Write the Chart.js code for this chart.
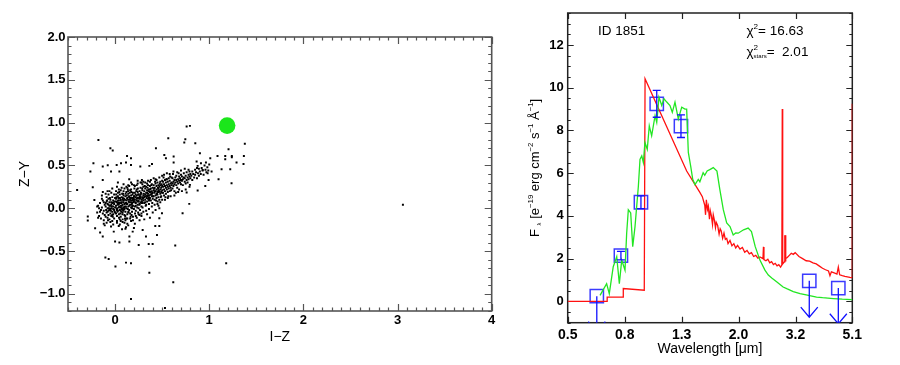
<!DOCTYPE html>
<html>
<head>
<meta charset="utf-8">
<script src="https://cdn.jsdelivr.net/npm/chart.js@4.4.0/dist/chart.umd.min.js"></script>
<style>
  body { margin: 0; background: #fff; }
  #wrap { position: relative; width: 900px; height: 365px; }
  canvas { position: absolute; top: 0; }
</style>
</head>
<body>
<div id="wrap">
  <canvas id="colorChart" width="500" height="365" style="left:0"></canvas>
  <canvas id="sedChart" width="400" height="365" style="left:500px"></canvas>
</div>
<script>
Chart.defaults.font.family = "'Liberation Sans', Arial, sans-serif";
Chart.defaults.font.size = 13;
Chart.defaults.color = "#000";

// ---- left panel: colour-colour plane ----
const izTicks = [0, 1, 2, 3, 4];
const zyTicks = [-1.0, -0.5, 0.0, 0.5, 1.0, 1.5, 2.0];

// field objects [I-Z, Z-Y]
const fieldStars = [
  // sparse ones
  [-0.177,0.798],[-0.05,0.701],[-0.025,0.674],[0.565,0.818],[0.760,0.954],[0.795,0.962],[0.746,0.806],
  [0.735,0.767],[0.852,0.759],[0.434,0.701],[0.127,0.611],[0.169,0.584],[0.268,0.487],[0.364,0.495],
  [0.392,0.518],[0.523,0.623],[0.540,0.584],[0.622,0.604],[0.622,0.533],[0.901,0.643],[1.011,0.584],
  [1.088,0.611],[1.170,0.611],[1.170,0.572],[1.240,0.611],[1.240,0.596],[1.290,0.533],[1.368,0.611],
  [1.378,0.752],[1.364,0.518],[1.205,0.689],[1.131,0.456],[1.223,0.456],[1.099,0.339],[1.237,0.292],
  [1.025,0.428],[0.965,0.533],[0.866,0.545],[0.912,0.526],[0.877,0.495],[0.930,0.448],[0.983,0.409],
  [0.993,0.331],[0.958,0.261],[0.877,0.206],[0.795,0.273],[0.760,0.183],[0.788,0.051],[0.717,-0.058],
  [-0.230,0.526],[-0.262,0.428],[-0.131,0.487],[-0.078,0.502],[0.017,0.506],[0.063,0.526],[0.116,0.533],
  [0.169,0.506],[0.046,0.428],[-0.043,0.428],[-0.237,0.245],[-0.131,0.331],[-0.290,-0.097],[-0.290,-0.144],
  [-0.220,0.097],[-0.212,-0.234],[-0.159,-0.284],[-0.131,-0.331],[-0.043,-0.214],[-0.014,-0.273],
  [0.039,-0.206],[0.116,-0.222],[0.152,-0.331],[0.187,-0.273],[0.074,-0.245],[0.0,-0.389],[0.046,-0.401],
  [0.152,-0.389],[0.251,-0.428],[0.357,-0.417],[0.399,-0.417],[0.293,-0.253],[0.427,-0.206],[0.470,-0.206],
  [0.328,-0.331],[0.445,-0.312],[0.639,-0.436],[0.470,-0.117],[0.498,-0.058],[-0.103,-0.576],[-0.068,-0.592],
  [0.004,-0.681],[0.116,-0.635],[0.169,-0.643],[0.364,-0.565],[0.364,-0.752],[0.618,-0.864],[0.169,-1.059],
  [1.180,-0.643],[0.53,-1.165],[3.057,0.042],[-0.403,0.214],
  // the main band
  [-0.19,-0.05],[-0.18,0.03],[-0.17,-0.09],[-0.16,0.06],[-0.15,-0.02],[-0.15,-0.12],[-0.14,0.01],[-0.13,-0.06],
  [-0.13,0.09],[-0.12,-0.03],[-0.12,-0.14],[-0.11,0.04],[-0.11,-0.08],[-0.18,-0.11],[-0.16,-0.04],[-0.14,0.11],
  [-0.19,0.02],[-0.1,-0.1],[-0.17,0.0],[-0.12,0.07],
  [-0.1,0.02],[-0.09,-0.05],[-0.09,0.08],[-0.08,-0.11],[-0.08,0.0],[-0.08,0.05],[-0.07,-0.03],[-0.07,0.11],
  [-0.07,-0.08],[-0.06,0.03],[-0.06,-0.13],[-0.06,0.07],[-0.05,-0.01],[-0.05,-0.06],[-0.05,0.1],[-0.04,0.04],
  [-0.04,-0.09],[-0.04,0.0],[-0.03,0.06],[-0.03,-0.04],[-0.03,0.13],[-0.02,-0.07],[-0.02,0.02],[-0.02,0.09],
  [-0.01,-0.02],[-0.01,-0.12],[-0.01,0.05],[0.0,0.01],[0.0,-0.05],[0.0,0.08],[-0.095,-0.02],[-0.085,0.09],
  [-0.075,-0.14],[-0.065,0.0],[-0.055,0.12],[-0.045,-0.03],[-0.035,0.02],[-0.025,-0.1],[-0.015,0.07],
  [-0.005,-0.04],[-0.09,0.13],[-0.06,-0.02],[-0.04,0.07],[-0.02,-0.01],[-0.07,0.04],
  [0.01,0.03],[0.01,-0.06],[0.01,0.11],[0.02,0.0],[0.02,0.07],[0.02,-0.09],[0.03,0.04],[0.03,0.14],
  [0.03,-0.03],[0.04,0.09],[0.04,-0.07],[0.04,0.01],[0.05,0.06],[0.05,-0.02],[0.05,0.16],[0.06,0.03],
  [0.06,-0.1],[0.06,0.1],[0.07,-0.01],[0.07,0.07],[0.07,0.13],[0.08,0.04],[0.08,-0.05],[0.08,0.0],
  [0.09,0.09],[0.09,-0.03],[0.09,0.15],[0.1,0.05],[0.1,-0.08],[0.1,0.02],[0.015,0.08],[0.025,-0.04],
  [0.035,0.12],[0.045,0.02],[0.055,-0.06],[0.065,0.06],[0.075,0.17],[0.085,-0.02],[0.095,0.11],[0.012,0.16],
  [0.028,0.05],[0.042,-0.11],[0.058,0.09],[0.072,0.03],[0.088,0.07],[0.098,-0.01],[0.018,-0.01],[0.038,0.06],
  [0.052,0.12],[0.068,-0.04],[0.082,0.12],[0.092,0.01],[0.062,0.01],[0.032,0.09],[0.078,-0.07],
  [0.11,0.06],[0.11,-0.04],[0.11,0.14],[0.12,0.09],[0.12,0.0],[0.12,0.19],[0.13,0.05],[0.13,-0.07],
  [0.13,0.12],[0.14,0.02],[0.14,0.1],[0.14,0.17],[0.15,0.07],[0.15,-0.02],[0.15,0.13],[0.16,0.04],
  [0.16,0.21],[0.16,-0.06],[0.17,0.09],[0.17,0.15],[0.17,0.01],[0.18,0.06],[0.18,0.12],[0.18,-0.04],
  [0.19,0.1],[0.19,0.03],[0.19,0.18],[0.2,0.08],[0.2,-0.01],[0.2,0.14],[0.105,0.1],[0.115,0.02],
  [0.125,0.15],[0.135,-0.01],[0.145,0.08],[0.155,0.18],[0.165,0.11],[0.175,-0.08],[0.185,0.16],[0.195,0.07],
  [0.108,-0.09],[0.122,0.05],[0.138,0.2],[0.152,0.03],[0.168,0.07],[0.182,0.02],[0.198,0.12],[0.128,0.11],
  [0.142,-0.04],[0.158,0.1],[0.172,0.19],[0.188,0.09],[0.112,0.17],[0.148,0.14],[0.178,0.04],
  [0.21,0.1],[0.21,0.02],[0.21,0.18],[0.22,0.13],[0.22,0.06],[0.22,-0.03],[0.23,0.15],[0.23,0.09],
  [0.23,0.22],[0.24,0.04],[0.24,0.12],[0.24,0.19],[0.25,0.08],[0.25,0.16],[0.25,0.0],[0.26,0.11],
  [0.26,0.2],[0.26,0.05],[0.27,0.14],[0.27,0.07],[0.27,0.24],[0.28,0.1],[0.28,0.17],[0.28,0.02],
  [0.29,0.13],[0.29,0.21],[0.29,0.06],[0.3,0.15],[0.3,0.09],[0.3,0.25],[0.205,0.14],[0.215,0.07],
  [0.225,0.2],[0.235,0.01],[0.245,0.16],[0.255,0.12],[0.265,-0.02],[0.275,0.18],[0.285,0.08],[0.295,0.11],
  [0.212,-0.06],[0.228,0.11],[0.242,0.23],[0.258,0.04],[0.272,0.12],[0.288,0.23],[0.218,0.16],[0.248,0.09],
  [0.268,0.16],[0.292,0.01],
  [0.31,0.13],[0.31,0.2],[0.31,0.06],[0.32,0.16],[0.32,0.23],[0.32,0.1],[0.33,0.18],[0.33,0.04],
  [0.33,0.25],[0.34,0.14],[0.34,0.21],[0.34,0.08],[0.35,0.17],[0.35,0.11],[0.35,0.27],[0.36,0.15],
  [0.36,0.22],[0.36,0.05],[0.37,0.19],[0.37,0.12],[0.37,0.26],[0.38,0.16],[0.38,0.09],[0.38,0.23],
  [0.39,0.2],[0.39,0.14],[0.39,0.28],[0.4,0.18],[0.4,0.11],[0.4,0.24],[0.305,0.17],[0.315,0.26],
  [0.325,0.03],[0.335,0.12],[0.345,0.24],[0.355,0.2],[0.365,0.1],[0.375,0.16],[0.385,0.27],[0.395,0.06],
  [0.318,0.14],[0.342,0.18],[0.358,0.13],[0.372,0.22],[0.392,0.17],
  [0.41,0.21],[0.41,0.14],[0.41,0.27],[0.42,0.18],[0.42,0.24],[0.42,0.1],[0.43,0.2],[0.43,0.29],
  [0.43,0.15],[0.44,0.22],[0.44,0.12],[0.44,0.26],[0.45,0.19],[0.45,0.3],[0.45,0.16],[0.46,0.23],
  [0.46,0.13],[0.46,0.27],[0.47,0.2],[0.47,0.25],[0.47,0.1],[0.48,0.22],[0.48,0.17],[0.48,0.31],
  [0.49,0.24],[0.49,0.19],[0.49,0.14],[0.5,0.26],[0.5,0.21],[0.5,0.32],[0.415,0.23],[0.425,0.31],
  [0.435,0.09],[0.445,0.17],[0.455,0.24],[0.465,0.19],[0.475,0.29],[0.485,0.13],[0.495,0.28],[0.452,0.08],
  [0.51,0.25],[0.51,0.18],[0.51,0.31],[0.52,0.22],[0.52,0.28],[0.52,0.15],[0.53,0.26],[0.53,0.33],
  [0.53,0.2],[0.54,0.24],[0.54,0.3],[0.54,0.17],[0.55,0.27],[0.55,0.22],[0.55,0.34],[0.56,0.25],
  [0.56,0.31],[0.56,0.19],[0.57,0.28],[0.57,0.23],[0.57,0.35],[0.58,0.26],[0.58,0.32],[0.58,0.2],
  [0.59,0.29],[0.59,0.24],[0.6,0.3],[0.6,0.27],[0.6,0.36],[0.515,0.36],[0.535,0.13],[0.545,0.34],
  [0.565,0.14],[0.585,0.37],[0.595,0.21],
  [0.61,0.29],[0.61,0.23],[0.61,0.35],[0.62,0.31],[0.62,0.26],[0.63,0.33],[0.63,0.28],[0.63,0.2],
  [0.64,0.3],[0.64,0.36],[0.65,0.27],[0.65,0.33],[0.65,0.38],[0.66,0.31],[0.66,0.24],[0.67,0.34],
  [0.67,0.29],[0.68,0.32],[0.68,0.37],[0.68,0.22],[0.69,0.3],[0.69,0.35],[0.7,0.33],[0.7,0.28],
  [0.7,0.39],[0.615,0.4],[0.645,0.18],[0.675,0.41],
  [0.71,0.32],[0.71,0.37],[0.72,0.34],[0.72,0.27],[0.73,0.36],[0.73,0.41],[0.74,0.31],[0.74,0.35],
  [0.75,0.38],[0.75,0.29],[0.76,0.33],[0.76,0.42],[0.77,0.36],[0.77,0.3],[0.78,0.39],[0.78,0.34],
  [0.79,0.37],[0.79,0.43],[0.8,0.35],[0.8,0.4],
  [0.81,0.38],[0.82,0.33],[0.82,0.43],[0.83,0.4],[0.84,0.36],[0.85,0.45],[0.85,0.39],[0.86,0.42],
  [0.87,0.35],[0.87,0.47],[0.88,0.41],[0.89,0.38],[0.89,0.46],[0.9,0.43],
  [0.91,0.4],[0.92,0.47],[0.93,0.44],[0.94,0.39],[0.95,0.5],[0.96,0.45],[0.97,0.42],[0.98,0.48],
  [0.99,0.44],[1.0,0.51],
  // broader edges of the band
  [-0.14,0.15],[-0.12,-0.18],[-0.1,0.17],[-0.09,-0.17],[-0.07,0.16],[-0.05,-0.16],[-0.04,0.18],[-0.02,-0.19],
  [-0.01,0.16],[-0.13,0.19],[-0.11,-0.2],[-0.06,0.2],[-0.03,-0.15],
  [0.01,0.2],[0.02,-0.17],[0.04,0.22],[0.05,-0.13],[0.07,0.24],[0.08,-0.16],[0.09,0.2],[0.11,-0.14],
  [0.12,0.25],[0.13,-0.18],[0.14,0.27],[0.03,0.18],[0.06,-0.15],[0.1,0.23],[0.12,-0.12],[0.015,0.13],
  [0.045,0.19],[0.085,0.17],[0.105,-0.12],[0.135,0.22],
  [0.15,0.26],[0.16,-0.12],[0.18,0.28],[0.19,-0.14],[0.21,0.26],[0.22,-0.09],[0.24,0.29],[0.25,-0.07],
  [0.27,0.3],[0.28,-0.06],[0.3,0.31],[0.3,-0.04],[0.17,0.22],[0.23,0.27],[0.26,-0.08],[0.29,0.28],
  [0.165,-0.1],[0.205,0.23],[0.245,-0.05],[0.285,0.33],
  [0.32,0.3],[0.33,-0.03],[0.35,0.32],[0.36,-0.01],[0.38,0.33],[0.39,0.02],[0.41,0.35],[0.42,0.04],
  [0.44,0.33],[0.45,0.05],[0.47,0.36],[0.48,0.07],[0.5,0.38],[0.5,0.1],[0.34,0.29],[0.37,0.31],
  [0.43,0.34],[0.46,0.03],
  [0.52,0.39],[0.53,0.1],[0.55,0.41],[0.56,0.12],[0.58,0.4],[0.59,0.14],[0.62,0.43],[0.63,0.15],
  [0.66,0.42],[0.67,0.19],[0.7,0.44],[0.71,0.2],[0.74,0.46],[0.75,0.22],[0.78,0.45],[0.79,0.25],
  [-0.1,0.06],[-0.08,-0.04],[-0.05,0.03],[-0.03,-0.08],[0.0,0.12],[0.02,-0.02],[0.04,0.05],[0.06,-0.03],
  [0.08,0.1],[0.1,0.0],[0.12,0.06],[0.14,-0.05],[0.16,0.12],[0.18,0.0],[0.2,0.1],[0.22,0.03],
  [0.24,0.08],[0.26,0.14],[0.28,0.06],[0.3,0.12],[0.32,0.07],[0.34,0.15],[0.36,0.09],[0.38,0.19],
  [0.4,0.14],[0.42,0.2],[0.44,0.16],[0.46,0.21],[0.48,0.27],[0.5,0.18],
  // wings above and below the band
  [0.02,-0.15],[0.05,-0.19],[0.08,-0.13],[0.1,-0.17],[0.13,-0.12],[0.14,-0.2],[0.17,-0.15],[0.19,-0.1],
  [0.21,-0.18],[0.23,-0.11],[0.26,-0.14],[0.28,-0.09],[0.31,-0.13],[0.34,-0.07],[0.37,-0.11],[0.4,-0.05],
  [0.43,-0.02],[0.47,0.0],[0.11,-0.24],[0.2,-0.23],
  [-0.08,0.2],[-0.03,0.23],[0.02,0.25],[0.06,0.21],[0.09,0.28],[0.13,0.24],[0.17,0.3],[0.2,0.27],
  [0.24,0.32],[0.28,0.3],[0.03,0.3],[0.15,0.34]
];
const target = [[1.19, 0.965]];

// ---- right panel: SED ----
const wlTicks = [0.5, 0.796, 1.267, 2.016, 3.209, 5.1];
const wlLabels = ["0.5", "0.8", "1.3", "2.0", "3.2", "5.1"];
const fluxTicks = [0, 2, 4, 6, 8, 10, 12];

// red: stellar template (um, 1e-19 erg/cm2/s/A)
const starW = [0.5,0.69,0.69,0.787,0.787,0.934,0.94,1.32,1.47,1.50,1.53,1.54,1.55,1.565,1.575,1.59,1.60,
  1.615,1.63,1.64,1.655,1.67,1.68,1.70,1.72,1.735,1.75,1.77,1.79,1.81,1.83,1.85,1.88,1.91,1.94,1.97,2.0,2.04,
  2.08,2.12,2.16,2.2,2.24,2.28,2.32,2.36,2.40,2.46,2.47,2.48,2.52,2.56,2.6,2.64,2.68,2.72,2.76,2.8,2.84,2.87,
  2.88,2.89,2.93,2.94,2.945,2.96,2.965,3.0,3.05,3.1,3.15,3.2,3.3,3.4,3.5,3.6,3.7,3.8,3.9,4.0,4.1,4.2,4.25,
  4.3,4.4,4.5,4.55,4.6,4.7,4.8,4.9,5.0,5.1,5.1];
const starF = [0,0,0.2,0.2,0.6,0.52,10.42,6.1,5.1,4.9,4.5,4.05,4.75,4.3,4.45,3.85,4.25,
  4.0,3.6,4.05,3.8,3.45,3.7,3.55,3.15,3.4,3.3,2.95,3.2,2.9,2.95,2.7,2.85,2.6,2.7,2.5,2.62,2.45,
  2.52,2.3,2.38,2.22,2.28,2.1,2.15,2.02,2.08,2.0,2.55,1.95,1.9,1.97,1.8,1.86,1.72,1.78,1.66,1.72,1.6,1.7,
  9.0,1.75,1.85,3.1,1.9,3.1,2.0,2.05,2.15,2.25,2.2,2.28,2.1,2.0,1.9,1.88,1.8,1.75,1.65,1.55,1.48,1.42,1.2,
  1.38,1.33,1.28,1.6,1.24,1.2,1.17,1.15,1.12,1.1,9.25];

// green: best-fit galaxy template
const galW = [0.651,0.687,0.702,0.725,0.746,0.762,0.777,0.798,0.809,0.820,0.836,0.850,0.866,0.890,0.902,
  0.915,0.927,0.939,0.957,0.973,0.992,1.020,1.034,1.053,1.077,1.097,1.122,1.152,1.174,1.200,1.233,1.268,
  1.302,1.320,1.338,1.364,1.387,1.413,1.451,1.47,1.51,1.53,1.56,1.60,1.64,1.69,1.73,1.78,1.83,1.88,1.93,
  1.97,2.01,2.10,2.18,2.24,2.31,2.40,2.50,2.57,2.65,2.75,2.90,3.0,3.15,3.33,3.5,3.81,4.0,4.37,4.7,5.07,5.1];
const galF = [0.28,0.83,0.36,1.62,2.09,0.83,1.93,1.46,3.19,4.29,4.14,2.56,3.5,5.39,6.65,
  6.81,6.5,7.44,7.12,8.22,7.75,8.69,8.38,9.56,9.17,9.48,9.33,9.17,8.85,9.33,8.54,9.09,
  9.0,9.0,6.97,6.33,5.71,5.47,5.71,5.6,6.02,5.9,6.1,6.18,6.26,6.1,5.24,4.29,3.67,3.5,3.11,
  3.2,3.19,3.35,3.43,3.27,2.56,1.93,1.46,1.23,1.08,0.92,0.67,0.58,0.46,0.36,0.3,0.2,0.17,0.13,0.1,0.08,0.08];

// observed photometry with errors, and upper limits
const photW = [0.772, 0.909, 1.034, 1.26];
const photF = [2.14, 4.64, 9.25, 8.2];
const photErr = [0.2, 0.3, 0.63, 0.53];
const limW = [0.634, 3.59, 4.55];
const limF = [0.24, 0.96, 0.62];
const limTip = [-1.42, -0.74, -1.05];

const minus = s => s.replace("-", "\u2212");
const pts = (xs, ys) => xs.map((v, i) => ({ x: v, y: ys[i] }));

// inside tick marks + frame, IDL style
function frameTicks(cfg) {
  return {
    id: "frameTicks",
    beforeDatasetsDraw(chart) {
      const { ctx, chartArea: a, scales: { x, y } } = chart;
      ctx.save();
      ctx.strokeStyle = cfg.color;
      ctx.lineWidth = cfg.width;
      ctx.strokeRect(a.left, a.top, a.right - a.left, a.bottom - a.top);
      ctx.lineWidth = 1.2;
      ctx.beginPath();
      const xt = (vals, len) => vals.forEach(v => {
        const p = Math.round(x.getPixelForValue(v)) + 0.5;
        ctx.moveTo(p, a.bottom); ctx.lineTo(p, a.bottom - len);
        ctx.moveTo(p, a.top); ctx.lineTo(p, a.top + len);
      });
      const yt = (vals, len) => vals.forEach(v => {
        const p = Math.round(y.getPixelForValue(v)) + 0.5;
        ctx.moveTo(a.left, p); ctx.lineTo(a.left + len, p);
        ctx.moveTo(a.right, p); ctx.lineTo(a.right - len, p);
      });
      xt(cfg.xMajor, cfg.majorLen); xt(cfg.xMinor, cfg.minorLen);
      yt(cfg.yMajor, cfg.majorLen); yt(cfg.yMinor, cfg.minorLen);
      ctx.stroke();
      ctx.restore();
    }
  };
}

function steps(from, to, step) {
  const out = [];
  for (let v = from; v <= to + 1e-9; v += step) out.push(+v.toFixed(3));
  return out;
}

// text with super/subscripts: parts = [[text, kind]], kind "", "sup", "sub", "subStack"
function drawRich(ctx, parts, x, y, size, weight) {
  let cx = x, scriptStart = x;
  parts.forEach(([t, kind]) => {
    let fs = size, dy = 0;
    if (kind === "sup") { fs = size * 0.6; dy = -size * 0.42; }
    if (kind === "sub" || kind === "subStack") { fs = size * 0.45; dy = size * 0.18; }
    ctx.font = `${weight || ""} ${fs}px 'Liberation Sans', Arial, sans-serif`;
    const w = ctx.measureText(t).width;
    if (kind === "subStack") {
      ctx.fillText(t, scriptStart, y + dy);
      cx = Math.max(cx, scriptStart + w);
    } else {
      if (kind === "sup") scriptStart = cx;
      ctx.fillText(t, cx, y + dy);
      cx += w;
    }
  });
  return cx - x;
}

const yTitleParts = [["F", ""], [" ", ""], ["\u03bb", "sub"], [" [e", ""], ["\u221219", "sup"], [" erg cm", ""],
  ["\u22122", "sup"], [" s", ""], ["\u22121", "sup"], [" \u00c5", ""], ["\u22121", "sup"], ["]", ""]];

const sedDecor = {
  id: "sedDecor",
  afterDatasetsDraw(chart) {
    const { ctx, chartArea: a, scales: { x, y } } = chart;
    ctx.save();
    ctx.beginPath();
    ctx.rect(a.left, a.top, a.right - a.left, a.bottom - a.top);
    ctx.clip();
    ctx.strokeStyle = "#1010ff";
    ctx.lineWidth = 1.3;
    ctx.beginPath();
    photW.forEach((w, i) => {
      const px = x.getPixelForValue(w);
      const hi = y.getPixelForValue(photF[i] + photErr[i]);
      const lo = y.getPixelForValue(photF[i] - photErr[i]);
      ctx.moveTo(px, hi); ctx.lineTo(px, lo);
      ctx.moveTo(px - 4, hi); ctx.lineTo(px + 4, hi);
      ctx.moveTo(px - 4, lo); ctx.lineTo(px + 4, lo);
    });
    limW.forEach((w, i) => {
      const px = x.getPixelForValue(w);
      const p0 = y.getPixelForValue(limF[i]);
      const p1 = y.getPixelForValue(limTip[i]);
      ctx.moveTo(px, p0); ctx.lineTo(px, p1);
      ctx.moveTo(px - 8.5, p1 - 10); ctx.lineTo(px, p1); ctx.lineTo(px + 8.5, p1 - 10);
    });
    ctx.stroke();
    ctx.restore();

    ctx.save();
    ctx.fillStyle = "#000";
    ctx.textBaseline = "alphabetic";
    drawRich(ctx, [["ID 1851", ""]], 98, 35, 13.5);
    drawRich(ctx, [["\u03c7", ""], ["2", "sup"], ["= 16.63", ""]], 246.5, 35, 13.5);
    drawRich(ctx, [["\u03c7", ""], ["2", "sup"], ["stars", "subStack"], ["=  2.01", ""]], 246.5, 56, 13.5);
    // y axis title, rotated
    ctx.translate(34, (a.top + a.bottom) / 2);
    ctx.rotate(-Math.PI / 2);
    ctx.globalAlpha = 0;
    const tw = drawRich(ctx, yTitleParts, 0, 0, 13);
    ctx.globalAlpha = 1;
    drawRich(ctx, yTitleParts, -tw / 2, 4.5, 13);
    ctx.restore();
  }
};

// left chart
new Chart(document.getElementById("colorChart"), {
  type: "scatter",
  data: {
    datasets: [
      { data: fieldStars.map(p => ({ x: p[0], y: p[1] })), pointStyle: "rect", pointRadius: 1.4,
        backgroundColor: "#000", borderWidth: 0 },
      { data: target.map(p => ({ x: p[0], y: p[1] })), pointRadius: 8.3, backgroundColor: "#1be61b",
        borderWidth: 0 }
    ]
  },
  options: {
    responsive: false, animation: false, events: [],
    layout: { padding: { left: 0, top: 37, right: 7, bottom: 0 } },
    plugins: { legend: { display: false }, tooltip: { enabled: false } },
    scales: {
      x: {
        type: "linear", min: -0.5, max: 4,
        grid: { display: false, drawTicks: false }, border: { display: false },
        afterBuildTicks: s => { s.ticks = izTicks.map(v => ({ value: v })); },
        afterFit: s => { s.height = 54; },
        ticks: { padding: 2, autoSkip: false, maxRotation: 0, font: { weight: "bold" },
                 callback: v => String(v) },
        title: { display: true, text: "I\u2212Z", font: { size: 14 }, padding: { top: 0, bottom: 19 } }
      },
      y: {
        type: "linear", min: -1.2, max: 2.0,
        grid: { display: false, drawTicks: false }, border: { display: false },
        afterBuildTicks: s => { s.ticks = zyTicks.map(v => ({ value: v })); },
        afterFit: s => { s.width = 68; },
        ticks: { padding: 2.5, autoSkip: false, font: { weight: "bold" },
                 callback: v => minus(v.toFixed(1)) },
        title: { display: true, text: "Z\u2212Y", font: { size: 14 }, padding: { top: 17, bottom: 0 } }
      }
    }
  },
  plugins: [frameTicks({ color: "#555", width: 1.6, majorLen: 7, minorLen: 3.5,
    xMajor: izTicks, xMinor: steps(-0.5, 4, 0.1), yMajor: zyTicks, yMinor: steps(-1.2, 2.0, 0.1) })]
});

// right chart
new Chart(document.getElementById("sedChart"), {
  type: "scatter",
  data: {
    datasets: [
      { data: pts(galW, galF), showLine: true, borderColor: "#22e622", borderWidth: 1.3, pointRadius: 0, tension: 0 },
      { data: pts(starW, starF), showLine: true, borderColor: "#ff1010", borderWidth: 1.3, pointRadius: 0, tension: 0 },
      { data: pts(photW, photF), pointStyle: "rect", pointRadius: 9.4, borderColor: "#3b3bff",
        borderWidth: 1.5, backgroundColor: "rgba(0,0,0,0)" },
      { data: pts(limW, limF), pointStyle: "rect", pointRadius: 9.4, borderColor: "#3b3bff",
        borderWidth: 1.5, backgroundColor: "rgba(0,0,0,0)" }
    ]
  },
  options: {
    responsive: false, animation: false, events: [],
    layout: { padding: { left: 0, top: 13, right: 47.7, bottom: 0 } },
    plugins: { legend: { display: false }, tooltip: { enabled: false } },
    scales: {
      x: {
        type: "logarithmic", min: 0.5, max: 5.1,
        grid: { display: false, drawTicks: false }, border: { display: false },
        afterBuildTicks: s => { s.ticks = wlTicks.map(v => ({ value: v })); },
        afterFit: s => { s.height = 42.3; },
        ticks: { padding: 4, autoSkip: false, maxRotation: 0, font: { size: 14, weight: "bold" },
                 callback: (v, i) => wlLabels[i] },
        title: { display: true, text: "Wavelength [\u03bcm]", font: { size: 14 }, padding: { top: 0, bottom: 7 } }
      },
      y: {
        type: "linear", min: -1, max: 13.5,
        grid: { display: false, drawTicks: false }, border: { display: false },
        afterBuildTicks: s => { s.ticks = fluxTicks.map(v => ({ value: v })); },
        afterFit: s => { s.width = 67.7; },
        ticks: { padding: 4, autoSkip: false, font: { weight: "bold" }, callback: v => String(v) }
      }
    }
  },
  plugins: [frameTicks({ color: "#222", width: 1.5, majorLen: 6, minorLen: 3,
    xMajor: wlTicks, xMinor: [], yMajor: fluxTicks, yMinor: steps(-1, 13.5, 0.5) }), sedDecor]
});
</script>
</body>
</html>
